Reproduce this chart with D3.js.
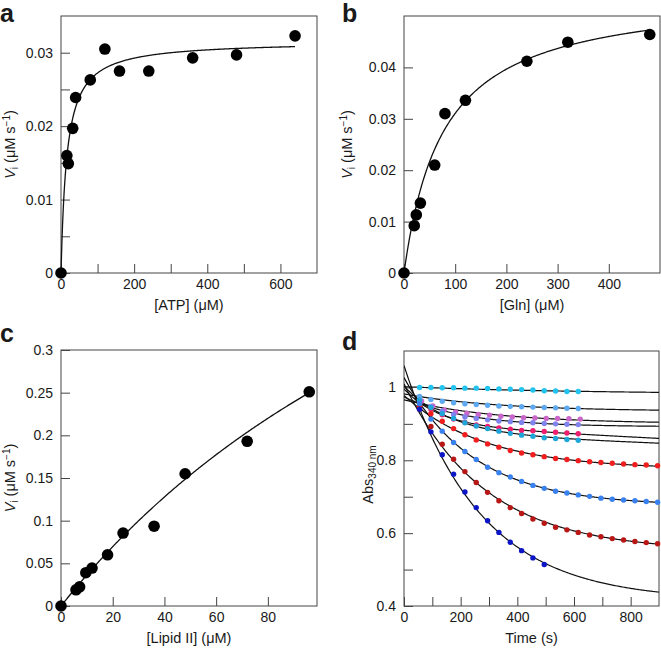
<!DOCTYPE html>
<html><head><meta charset="utf-8">
<script src="https://cdn.jsdelivr.net/npm/d3@7"></script>
<style>
body{margin:0;background:#fff}
svg{display:block}
text{font-family:"Liberation Sans",Arial,Helvetica,sans-serif;fill:#1a1a1a}
</style>
</head><body><svg id="chart" width="661" height="649"></svg>
<script>
// ---------- Panel a : ATP ----------
const atpConc = [0, 16, 20, 32, 40, 80, 120, 160, 240, 360, 480, 640];
const atpRate = [0, 0.0160, 0.0149, 0.0197, 0.0239, 0.0263, 0.0305, 0.0275, 0.0275, 0.0293, 0.0297, 0.0323];
const atpFit = [0.0316, 16];          // Vmax, Km
// ---------- Panel b : Gln ----------
const glnConc = [0, 20, 24, 32, 60, 80, 120, 240, 320, 480];
const glnRate = [0, 0.0092, 0.0113, 0.0136, 0.0210, 0.0310, 0.0336, 0.0412, 0.0449, 0.0464];
const glnFit = [0.0548, 76.4];
// ---------- Panel c : Lipid II ----------
const lipidConc = [0, 5.8, 7.2, 9.6, 12, 18, 24, 36, 48, 72, 96];
const lipidRate = [0, 0.019, 0.0225, 0.039, 0.0445, 0.060, 0.0855, 0.0935, 0.155, 0.193, 0.251];
const lipidFit = [0.789, 207];
// ---------- Panel d : time courses ----------
const dTimes = [55, 95, 135, 175, 215, 255, 295, 335, 375, 415, 455, 495, 535, 575, 615, 655, 695, 735, 775, 815, 855, 895];
const orchidTimes = [62, 102, 142, 182, 222, 262, 302, 342, 382, 422, 462, 502, 542, 582, 622];
const dNames = ["cyanTop", "lightBlue", "orchid", "purple", "pink", "cyanBlue", "red", "blue", "darkRed", "darkBlue"];
const dColors = ["#22c3ef", "#5ea9f0", "#c966c9", "#8083ee", "#ee1f6e", "#1fa6d8", "#f01e1e", "#3a81f0", "#b91616", "#0c16c6"];
const cyanTop = [1.000, 1.000, 0.999, 0.999, 0.998, 0.998, 0.997, 0.996, 0.995, 0.994, 0.993, 0.991, 0.990, 0.989, 0.989];
const lightBlue = [0.975, 0.967, 0.962, 0.958, 0.955, 0.953, 0.951, 0.949, 0.948, 0.947, 0.946, 0.945, 0.944, 0.943, 0.942];
const orchid = [0.963, 0.949, 0.938, 0.933, 0.929, 0.926, 0.924, 0.921, 0.919, 0.917, 0.916, 0.915, 0.915, 0.914, 0.913];
const purple = [0.962, 0.948, 0.935, 0.926, 0.919, 0.915, 0.911, 0.908, 0.906, 0.904, 0.903, 0.901, 0.900, 0.899, 0.898];
const pink = [0.960, 0.940, 0.925, 0.913, 0.904, 0.897, 0.893, 0.889, 0.885, 0.882, 0.881, 0.879, 0.877, 0.875, 0.873];
const cyanBlue = [0.965, 0.945, 0.928, 0.915, 0.903, 0.894, 0.887, 0.880, 0.874, 0.869, 0.866, 0.862, 0.860, 0.857, 0.855];
const red = [0.948, 0.928, 0.907, 0.887, 0.870, 0.856, 0.845, 0.836, 0.827, 0.820, 0.815, 0.810, 0.805, 0.802, 0.799, 0.796, 0.794, 0.792, 0.790, 0.788, 0.787, 0.785];
const blue = [0.955, 0.913, 0.880, 0.849, 0.824, 0.802, 0.781, 0.766, 0.754, 0.742, 0.731, 0.723, 0.715, 0.710, 0.705, 0.701, 0.696, 0.693, 0.691, 0.689, 0.687, 0.685];
const darkRed = [0.940, 0.893, 0.844, 0.803, 0.769, 0.739, 0.712, 0.689, 0.670, 0.654, 0.639, 0.627, 0.616, 0.609, 0.602, 0.595, 0.590, 0.585, 0.581, 0.577, 0.574, 0.571];
const darkBlue = [0.940, 0.878, 0.815, 0.762, 0.713, 0.670, 0.634, 0.602, 0.575, 0.552, 0.532, 0.514];
// exponential fits: A(t) = a + b*exp(-k t) + c t
const fitA = [0.981, 0.9344, 0.900, 0.892, 0.896, 0.8716, 0.775, 0.675, 0.550, 0.415];
const fitB = [0.021, 0.0478, 0.066, 0.082, 0.100, 0.132, 0.203, 0.352, 0.460, 0.645];
const fitK = [0.0015, 0.003, 0.003, 0.0045, 0.008, 0.006, 0.0035, 0.004, 0.0035, 0.0037];
const fitC = [0, 0, 0, 0, -4e-5, -2.8e-5, 0, 0, 0, 0];

// ---------- Tick labels ----------
const aXTicks = [0, 100, 200, 300, 400, 500, 600], aXLabels = [0, 200, 400, 600];
const aYTicks = [0, 0.005, 0.01, 0.015, 0.02, 0.025, 0.03], aYLabels = [0, 0.01, 0.02, 0.03];
const bXTicks = [0, 100, 200, 300, 400], bXLabels = [0, 100, 200, 300, 400];
const bYTicks = [0, 0.01, 0.02, 0.03, 0.04], bYLabels = [0, 0.01, 0.02, 0.03, 0.04];
const cXTicks = [0, 20, 40, 60, 80], cXLabels = [0, 20, 40, 60, 80];
const cYTicks = [0, 0.05, 0.1, 0.15, 0.2, 0.25, 0.3], cYLabels = [0, 0.05, 0.1, 0.15, 0.2, 0.25, 0.3];
const dXTicks = [0, 100, 200, 300, 400, 500, 600, 700, 800], dXLabels = [0, 200, 400, 600, 800];
const dYTicks = [0.4, 0.5, 0.6, 0.7, 0.8, 0.9, 1.0], dYLabels = [0.4, 0.6, 0.8, 1];

const svg = d3.select("#chart");
const FONT = 14;
const TITLE = 14.5;

function fmt(labels) {
  return d => labels.some(l => Math.abs(l - d) < 1e-9) ? String(+d.toFixed(4)) : "";
}

function makePanel(p) {
  const g = svg.append("g");
  const x = d3.scaleLinear().domain(p.xDomain).range([p.x0, p.x1]);
  const y = d3.scaleLinear().domain(p.yDomain).range([p.y1, p.y0]);
  const xa = g.append("g").attr("transform", `translate(0,${p.y1})`)
    .call(d3.axisBottom(x).tickValues(p.xTicks).tickFormat(fmt(p.xLabels)).tickSizeInner(-9).tickSizeOuter(0).tickPadding(6));
  const ya = g.append("g").attr("transform", `translate(${p.x0},0)`)
    .call(d3.axisLeft(y).tickValues(p.yTicks).tickFormat(fmt(p.yLabels)).tickSizeInner(-9).tickSizeOuter(0).tickPadding(8));
  [xa, ya].forEach(a => {
    a.select(".domain").remove();
    a.selectAll("line").attr("stroke", "#444").attr("stroke-width", 1);
    a.selectAll("text").attr("font-size", FONT).attr("fill", "#1a1a1a")
      .attr("font-family", '"Liberation Sans",Arial,Helvetica,sans-serif');
  });
  g.append("rect").attr("x", p.x0).attr("y", p.y0).attr("width", p.x1 - p.x0).attr("height", p.y1 - p.y0)
    .attr("fill", "none").attr("stroke", "#444").attr("stroke-width", 1);
  g.append("text").attr("x", p.lx).attr("y", p.ly).attr("font-size", 25).attr("font-weight", "bold")
    .attr("fill", "#000").text(p.letter);
  g.append("text").attr("x", (p.x0 + p.x1) / 2).attr("y", p.y1 + 37).attr("text-anchor", "middle")
    .attr("font-size", TITLE).text(p.xTitle);
  return {g, x, y};
}

function vLabel(g, xPos, yMid) {
  const t = g.append("text").attr("transform", `translate(${xPos},${yMid}) rotate(-90)`)
    .attr("text-anchor", "middle").attr("font-size", TITLE);
  t.append("tspan").attr("font-style", "italic").text("V");
  t.append("tspan").attr("font-size", 10).attr("baseline-shift", "-3").text("i");
  t.append("tspan").text(" (\u03bcM s");
  t.append("tspan").attr("font-size", 10).attr("baseline-shift", "5").text("\u22121");
  t.append("tspan").text(")");
}

function mmPanel(p, conc, rate, fit) {
  const {g, x, y} = makePanel(p);
  vLabel(g, p.vx, (p.y0 + p.y1) / 2);
  const xs = d3.range(0, d3.max(conc) + 0.0001, d3.max(conc) / 300);
  const line = d3.line().x(d => x(d)).y(d => y(fit[0] * d / (fit[1] + d)));
  g.append("path").datum(xs).attr("d", line).attr("fill", "none").attr("stroke", "#111").attr("stroke-width", 1.3);
  g.selectAll("circle.pt").data(conc).enter().append("circle")
    .attr("cx", d => x(d)).attr("cy", (d, i) => y(rate[i])).attr("r", 5.8).attr("fill", "#000");
}

mmPanel({x0: 61, x1: 317, y0: 16, y1: 273, xDomain: [0, 700], yDomain: [0, 0.035],
  xTicks: aXTicks, xLabels: aXLabels, yTicks: aYTicks, yLabels: aYLabels, vx: 15,
  letter: "a", lx: 0, ly: 22, xTitle: "[ATP] (\u03bcM)"}, atpConc, atpRate, atpFit);

mmPanel({x0: 404, x1: 660, y0: 16, y1: 273, xDomain: [0, 500], yDomain: [0, 0.05],
  xTicks: bXTicks, xLabels: bXLabels, yTicks: bYTicks, yLabels: bYLabels, vx: 352,
  letter: "b", lx: 342, ly: 22, xTitle: "[Gln] (\u03bcM)"}, glnConc, glnRate, glnFit);

mmPanel({x0: 61, x1: 317, y0: 350, y1: 606, xDomain: [0, 99], yDomain: [0, 0.3],
  xTicks: cXTicks, xLabels: cXLabels, yTicks: cYTicks, yLabels: cYLabels, vx: 15,
  letter: "c", lx: 0, ly: 342, xTitle: "[Lipid II] (\u03bcM)"}, lipidConc, lipidRate, lipidFit);

// Panel d
(function () {
  const p = {x0: 404, x1: 659, y0: 351, y1: 606, xDomain: [0, 900], yDomain: [0.4, 1.1],
    xTicks: dXTicks, xLabels: dXLabels, yTicks: dYTicks, yLabels: dYLabels,
    letter: "d", lx: 342, ly: 350, xTitle: "Time (s)"};
  const {g, x, y} = makePanel(p);
  const t = g.append("text").attr("transform", `translate(${p.x0 - 31},${(p.y0 + p.y1) / 2 - 4}) rotate(-90)`)
    .attr("text-anchor", "middle").attr("font-size", TITLE);
  t.append("tspan").text("Abs");
  t.append("tspan").attr("font-size", 10).attr("baseline-shift", "-3").text("340 nm");
  const series = [cyanTop, lightBlue, orchid, purple, pink, cyanBlue, red, blue, darkRed, darkBlue];
  const ts = d3.range(0, 901, 4);
  g.append("clipPath").attr("id", "clipD").append("rect")
    .attr("x", p.x0).attr("y", p.y0).attr("width", p.x1 - p.x0).attr("height", p.y1 - p.y0);
  series.forEach((s, i) => {
    const line = d3.line().x(d => x(d)).y(d => y(fitA[i] + fitB[i] * Math.exp(-fitK[i] * d) + fitC[i] * d));
    g.append("path").datum(ts).attr("d", line).attr("fill", "none").attr("stroke", "#111")
      .attr("stroke-width", 1.2).attr("clip-path", "url(#clipD)");
  });
  series.forEach((s, i) => {
    const times = dNames[i] === "orchid" ? orchidTimes : dTimes;
    g.append("g").selectAll("circle").data(s).enter().append("circle")
      .attr("cx", (d, j) => x(times[j])).attr("cy", d => y(d)).attr("r", 2.7).attr("fill", dColors[i]);
  });
})();
</script></body></html>
